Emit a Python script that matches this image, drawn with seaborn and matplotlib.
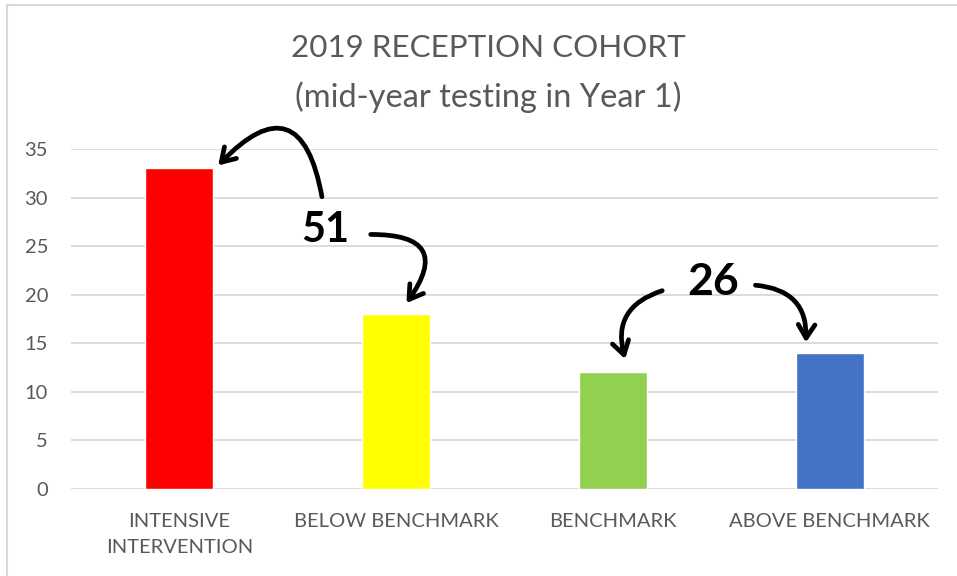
import matplotlib
matplotlib.use("Agg")
import matplotlib.pyplot as plt
from matplotlib.lines import Line2D
import seaborn as sns
import pandas as pd

categories = ["INTENSIVE\nINTERVENTION", "BELOW BENCHMARK", "BENCHMARK", "ABOVE BENCHMARK"]
values = [33, 18, 12, 14]
colors = ["#FF0000", "#FFFF00", "#92D050", "#4472C4"]
yticks = [0, 5, 10, 15, 20, 25, 30, 35]
title_lines = ["2019 RECEPTION COHORT", "(mid-year testing in Year 1)"]
note_51 = "51"
note_26 = "26"

sns.set_theme(style="white")
plt.rcParams["font.family"] = ["Lato", "DejaVu Sans"]

df = pd.DataFrame({"cat": categories, "val": values})

fig = plt.figure(figsize=(9.57, 5.76), dpi=100)
ax = fig.add_axes([71/957, 87/576, (938-71)/957, 340/576])

sns.barplot(data=df, x="cat", y="val", hue="cat", palette=colors, width=0.314,
            legend=False, ax=ax, saturation=1, zorder=3)

ax.set_ylim(0, 35)
ax.set_xlim(-0.5, 3.5)
ax.set_yticks(yticks)
ax.yaxis.grid(True, color="#D9D9D9", linewidth=1.3, zorder=0)
ax.set_axisbelow(True)
for s in ax.spines.values():
    s.set_visible(False)
ax.set_xlabel("")
ax.set_ylabel("")
ax.tick_params(axis="y", length=0, pad=16.5, labelsize=14.5, labelcolor="#595959")
ax.tick_params(axis="x", length=0, pad=17, labelsize=14.5, labelcolor="#595959")
for lbl in ax.get_xticklabels():
    lbl.set_linespacing(1.65)

fig.text(488/957, 1 - 48/576, title_lines[0], ha="center", va="center", fontsize=22.6, color="#595959")
fig.text(488/957, 1 - 97/576, title_lines[1], ha="center", va="center", fontsize=23.5, color="#595959")

# chart border (top and left)
fig.add_artist(Line2D([7/957, 1], [1 - 5/576, 1 - 5/576], color="#D9D9D9", lw=1.5, transform=fig.transFigure))
fig.add_artist(Line2D([7/957, 7/957], [0, 1 - 5/576], color="#D9D9D9", lw=1.5, transform=fig.transFigure))

# handwritten annotations
aprops = dict(arrowstyle="->,head_length=0.8,head_width=0.5", color="black", lw=3.4, capstyle="round")
ax.annotate("", xy=(0.17, 33.1), xytext=(0.66, 29.8),
            arrowprops=dict(connectionstyle="arc3,rad=1.0", **aprops), annotation_clip=False)
ax.annotate("", xy=(1.04, 18.9), xytext=(0.87, 26.2),
            arrowprops=dict(connectionstyle="arc3,rad=-1.0", **aprops), annotation_clip=False)
ax.annotate("", xy=(2.06, 13.1), xytext=(2.24, 20.5),
            arrowprops=dict(connectionstyle="arc3,rad=0.5", **aprops), annotation_clip=False)
ax.annotate("", xy=(2.89, 14.8), xytext=(2.645, 21.0),
            arrowprops=dict(connectionstyle="arc3,rad=-0.5", **aprops), annotation_clip=False)
ax.text(0.673, 26.7, note_51, ha="center", va="center", fontsize=30, fontweight="bold", color="black", zorder=5)
ax.text(2.461, 21.3, note_26, ha="center", va="center", fontsize=32, fontweight="bold", color="black", zorder=5)

fig.savefig("out.png", dpi=100, facecolor="white")
